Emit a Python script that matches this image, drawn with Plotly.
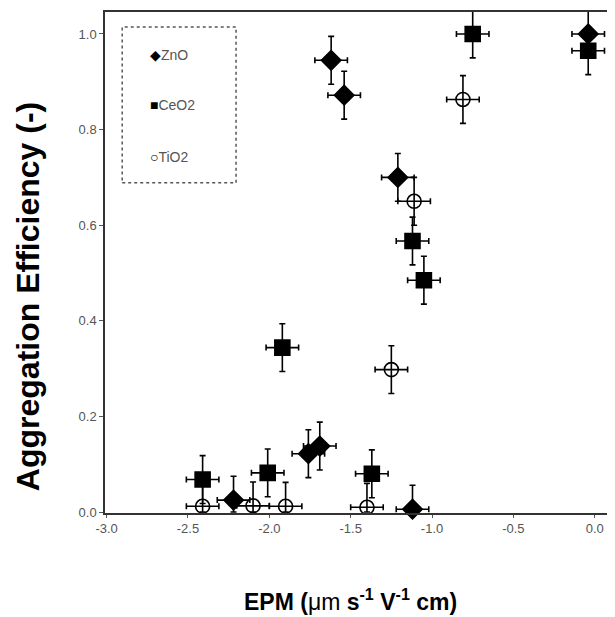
import plotly.graph_objects as go

# ZnO (filled diamonds)
zno_x = [-0.04, -1.62, -1.54, -1.21, -1.76, -1.69, -1.12, -2.22]
zno_y = [1.00, 0.945, 0.872, 0.700, 0.122, 0.138, 0.006, 0.025]
zno_xerr = [0.10, 0.10, 0.10, 0.10, 0.10, 0.10, 0.10, 0.10]
zno_yerr = [0.05, 0.05, 0.05, 0.05, 0.05, 0.05, 0.05, 0.05]

# CeO2 (filled squares)
ceo2_x = [-0.75, -0.04, -1.12, -1.05, -1.92, -2.41, -2.01, -1.37]
ceo2_y = [1.00, 0.965, 0.567, 0.485, 0.344, 0.068, 0.082, 0.080]
ceo2_xerr = [0.10, 0.10, 0.10, 0.10, 0.10, 0.10, 0.10, 0.10]
ceo2_yerr = [0.05, 0.05, 0.05, 0.05, 0.05, 0.05, 0.05, 0.05]

# TiO2 (open circles)
tio2_x = [-0.81, -1.11, -1.25, -1.40, -2.41, -2.10, -1.90]
tio2_y = [0.863, 0.650, 0.298, 0.010, 0.012, 0.013, 0.012]
tio2_xerr = [0.10, 0.10, 0.10, 0.10, 0.10, 0.10, 0.10]
tio2_yerr = [0.05, 0.05, 0.05, 0.05, 0.05, 0.05, 0.05]

x_ticks = [-3.0, -2.5, -2.0, -1.5, -1.0, -0.5, 0.0]
y_ticks = [0.0, 0.2, 0.4, 0.6, 0.8, 1.0]

FONT = "Arial, Liberation Sans, sans-serif"


def series(name, xs, ys, xe, ye, symbol, size):
    return go.Scatter(
        x=xs, y=ys, mode="markers", name=name, showlegend=False,
        cliponaxis=False,
        marker=dict(symbol=symbol, size=size, color="black",
                    line=dict(color="black", width=1.6)),
        error_x=dict(type="data", array=xe, color="black", thickness=1.6, width=3),
        error_y=dict(type="data", array=ye,
                     arrayminus=[min(e, v) for e, v in zip(ye, ys)],
                     color="black", thickness=1.6, width=3),
    )


fig = go.Figure()
fig.add_trace(series("ZnO", zno_x, zno_y, zno_xerr, zno_yerr, "diamond", 15))
fig.add_trace(series("CeO2", ceo2_x, ceo2_y, ceo2_xerr, ceo2_yerr, "square", 15))
fig.add_trace(series("TiO2", tio2_x, tio2_y, tio2_xerr, tio2_yerr, "circle-open", 14))

# page body has an 8px margin, so the figure is 8px smaller than the window
fig.update_layout(
    width=607, height=609,
    margin=dict(l=97, r=4, t=4, b=104, autoexpand=False),
    paper_bgcolor="white", plot_bgcolor="white",
    font=dict(family=FONT, color="#444", size=13),
    showlegend=False,
)
fig.update_xaxes(
    automargin=False,
    range=[-3.01, 0.1], tickvals=x_ticks, ticktext=[f"{v:.1f}" for v in x_ticks],
    showgrid=False, zeroline=False, showline=True, linecolor="#333", linewidth=1.5,
    mirror=True, ticks="outside", ticklen=3, tickcolor="#555",
    tickfont=dict(size=13, color="#555"),
)
fig.update_yaxes(
    automargin=False,
    range=[-0.002, 1.046], tickvals=y_ticks, ticktext=[f"{v:.1f}" for v in y_ticks],
    showgrid=False, zeroline=False, showline=True, linecolor="#333", linewidth=1.5,
    mirror=True, ticks="outside", ticklen=4, tickcolor="#555",
    tickfont=dict(size=13, color="#555"),
)

# thick right frame edge
fig.add_shape(type="line", xref="paper", yref="paper", x0=1, x1=1, y0=0, y1=1,
              line=dict(color="black", width=3))

# legend box
fig.add_shape(type="rect", xref="paper", yref="paper",
              x0=0.034, x1=0.259, y0=0.659, y1=0.970,
              line=dict(color="#555", width=1.5, dash="dot"), fillcolor="white",
              layer="below")
legend_items = [("◆", "ZnO", 0.914), ("■", "CeO2", 0.814), ("○", "TiO2", 0.711)]
for sym, lab, yy in legend_items:
    fig.add_annotation(xref="paper", yref="paper", x=0.085, y=yy, xanchor="left",
                       yanchor="middle", showarrow=False,
                       text=f"<span style='color:black;font-size:14px'>{sym}</span>{lab}",
                       font=dict(family=FONT, size=14, color="#555"))

# axis titles
fig.add_annotation(xref="paper", yref="paper", x=-0.152, y=0.431, textangle=-90,
                   xanchor="center", yanchor="middle",
                   showarrow=False, text="<b>Aggregation Efficiency (-)</b>",
                   font=dict(family=FONT, size=32, color="black"))
fig.add_annotation(xref="paper", yref="paper", x=0.485, y=-0.174,
                   xanchor="center", yanchor="middle", showarrow=False,
                   text="<b>EPM (</b>μm<b> s<sup>-1</sup> V<sup>-1</sup> cm)</b>",
                   font=dict(family=FONT, size=23, color="black"))

fig.write_html("out.html")
